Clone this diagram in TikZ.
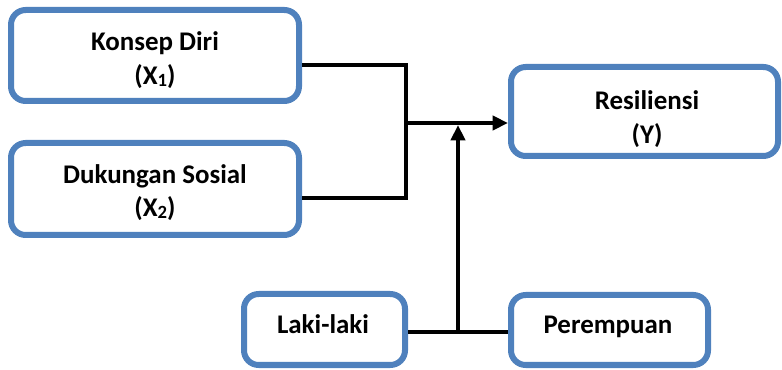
\documentclass[tikz,border=0pt]{standalone}
\usepackage{fontspec}
\setmainfont{Carlito}
\usetikzlibrary{arrows.meta}
\definecolor{boxblue}{HTML}{4F81BD}
\begin{document}
\begin{tikzpicture}[x=0.75pt,y=-0.75pt,
  box/.style={draw=boxblue,line width=4.5pt,rounded corners=11pt,fill=white,inner sep=0pt},
  lbl/.style={font=\bfseries\fontsize{20.2}{24}\selectfont,inner sep=0pt,anchor=base},
  conn/.style={line width=3pt},
  tip/.style={-{Triangle[length=11.5pt,width=10.5pt]}}]
\useasboundingbox (0,0) rectangle (782,370);
% boxes
\node[box,minimum width=216pt,minimum height=68.25pt] (b1) at (155,55.5) {};
\node[box,minimum width=216pt,minimum height=69pt] (b2) at (155,189) {};
\node[box,minimum width=200.25pt,minimum height=66.75pt] (by) at (644.5,111.5) {};
\node[box,minimum width=120.75pt,minimum height=53.25pt] (bl) at (324.5,329.5) {};
\node[box,minimum width=147.75pt,minimum height=52.5pt] (bp) at (609.5,330) {};
% texts
\node[lbl] (t1a) at (155,51) {Konsep Diri};
\node[lbl] (t1b) at (155,85) {(X\raisebox{-1pt}{\fontsize{14}{14}\selectfont 1})};
\node[lbl] (t2a) at (155,184) {Dukungan Sosial};
\node[lbl] (t2b) at (155,217) {(X\raisebox{-1pt}{\fontsize{14}{14}\selectfont 2})};
\node[lbl] (tya) at (647,110) {Resiliensi};
\node[lbl] (tyb) at (647,144) {(Y)};
\node[lbl] (tl) at (323,334) {Laki-laki};
\node[lbl] (tp) at (608,334) {Perempuan};
% connectors
\coordinate (j1) at (406,65);
\coordinate (j2) at (406,198);
\coordinate (m) at (406,123);
\coordinate (g) at (458,332);
\coordinate (gt) at (458,125);
\draw[conn] (b1.east |- j1) -- (j1) -- (j2) -- (b2.east |- j2);
\draw[conn,tip] (m) -- (by.west |- m);
\draw[conn] (bl.east |- g) -- (bp.west |- g);
\draw[conn,tip] (g) -- (gt);
\end{tikzpicture}
\end{document}
